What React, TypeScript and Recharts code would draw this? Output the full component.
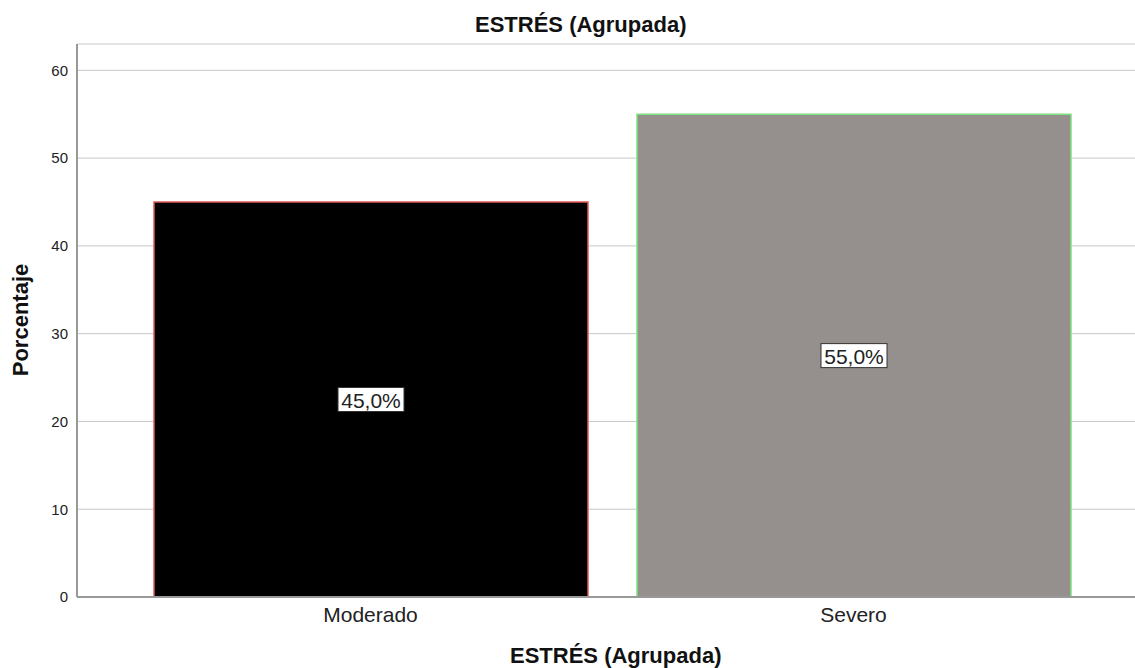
import { BarChart, Bar, XAxis, YAxis, CartesianGrid, Cell, LabelList } from 'recharts'

const categories = ['Moderado', 'Severo']
const percentages = [45.0, 55.0]
const yTicks = [0, 10, 20, 30, 40, 50, 60]

const fills = ['#000000', '#958f8e']
const strokes = ['#e05a5a', '#7ee27e']

const data = categories.map((name, i) => ({ name, value: percentages[i] }))

const font = '"Liberation Sans", Arial, sans-serif'

function BoxLabel(props: any) {
  const { x, y, width, height, value } = props
  const text = `${Number(value).toFixed(1).replace('.', ',')}%`
  const cx = x + width / 2
  const cy = y + height / 2
  const w = 66
  const h = 24
  return (
    <g>
      <rect x={cx - w / 2} y={cy - h / 2} width={w} height={h} fill="#fff" stroke="#333" strokeWidth={1} />
      <text x={cx} y={cy + 1} textAnchor="middle" dominantBaseline="central" fontSize={21} fill="#222" fontFamily={font}>
        {text}
      </text>
    </g>
  )
}

const titleStyle = { position: 'absolute' as const, fontSize: 22, lineHeight: '22px', fontWeight: 700, color: '#111', whiteSpace: 'nowrap' as const }

export default function App() {
  return (
    <div style={{ position: 'absolute', left: 0, top: 0, width: 1135, height: 668, background: '#fff', fontFamily: font, overflow: 'hidden' }}>
      <BarChart width={1135} height={668} data={data} margin={{ top: 44, right: 0, bottom: 41, left: 0 }}>
        <CartesianGrid horizontal vertical={false} stroke="#c8c8c8" />
        <XAxis
          dataKey="name"
          padding={{ left: 52, right: 40 }}
          stroke="#999"
          strokeWidth={2}
          tickLine={false}
          tick={{ fill: '#222', fontSize: 21, fontFamily: font }}
          tickMargin={4}
        />
        <YAxis
          width={77}
          domain={[0, 63]}
          ticks={yTicks}
          stroke="#999"
          strokeWidth={2}
          tickLine={false}
          tickSize={0}
          tickMargin={9}
          tick={{ fill: '#222', fontSize: 15, fontFamily: font }}
        />
        <Bar dataKey="value" barSize={434} isAnimationActive={false} strokeWidth={1.5}>
          {data.map((d, i) => (
            <Cell key={d.name} fill={fills[i]} stroke={strokes[i]} />
          ))}
          <LabelList dataKey="value" content={BoxLabel} />
        </Bar>
      </BarChart>
      <div style={{ ...titleStyle, top: 14, left: 475, width: 200, textAlign: 'center' }}>ESTRÉS (Agrupada)</div>
      <div style={{ ...titleStyle, top: 645, left: 510, width: 200, textAlign: 'center' }}>ESTRÉS (Agrupada)</div>
      <div style={{ ...titleStyle, left: 21, top: 320, transform: 'translate(-50%, -50%) rotate(-90deg)' }}>Porcentaje</div>
    </div>
  )
}
